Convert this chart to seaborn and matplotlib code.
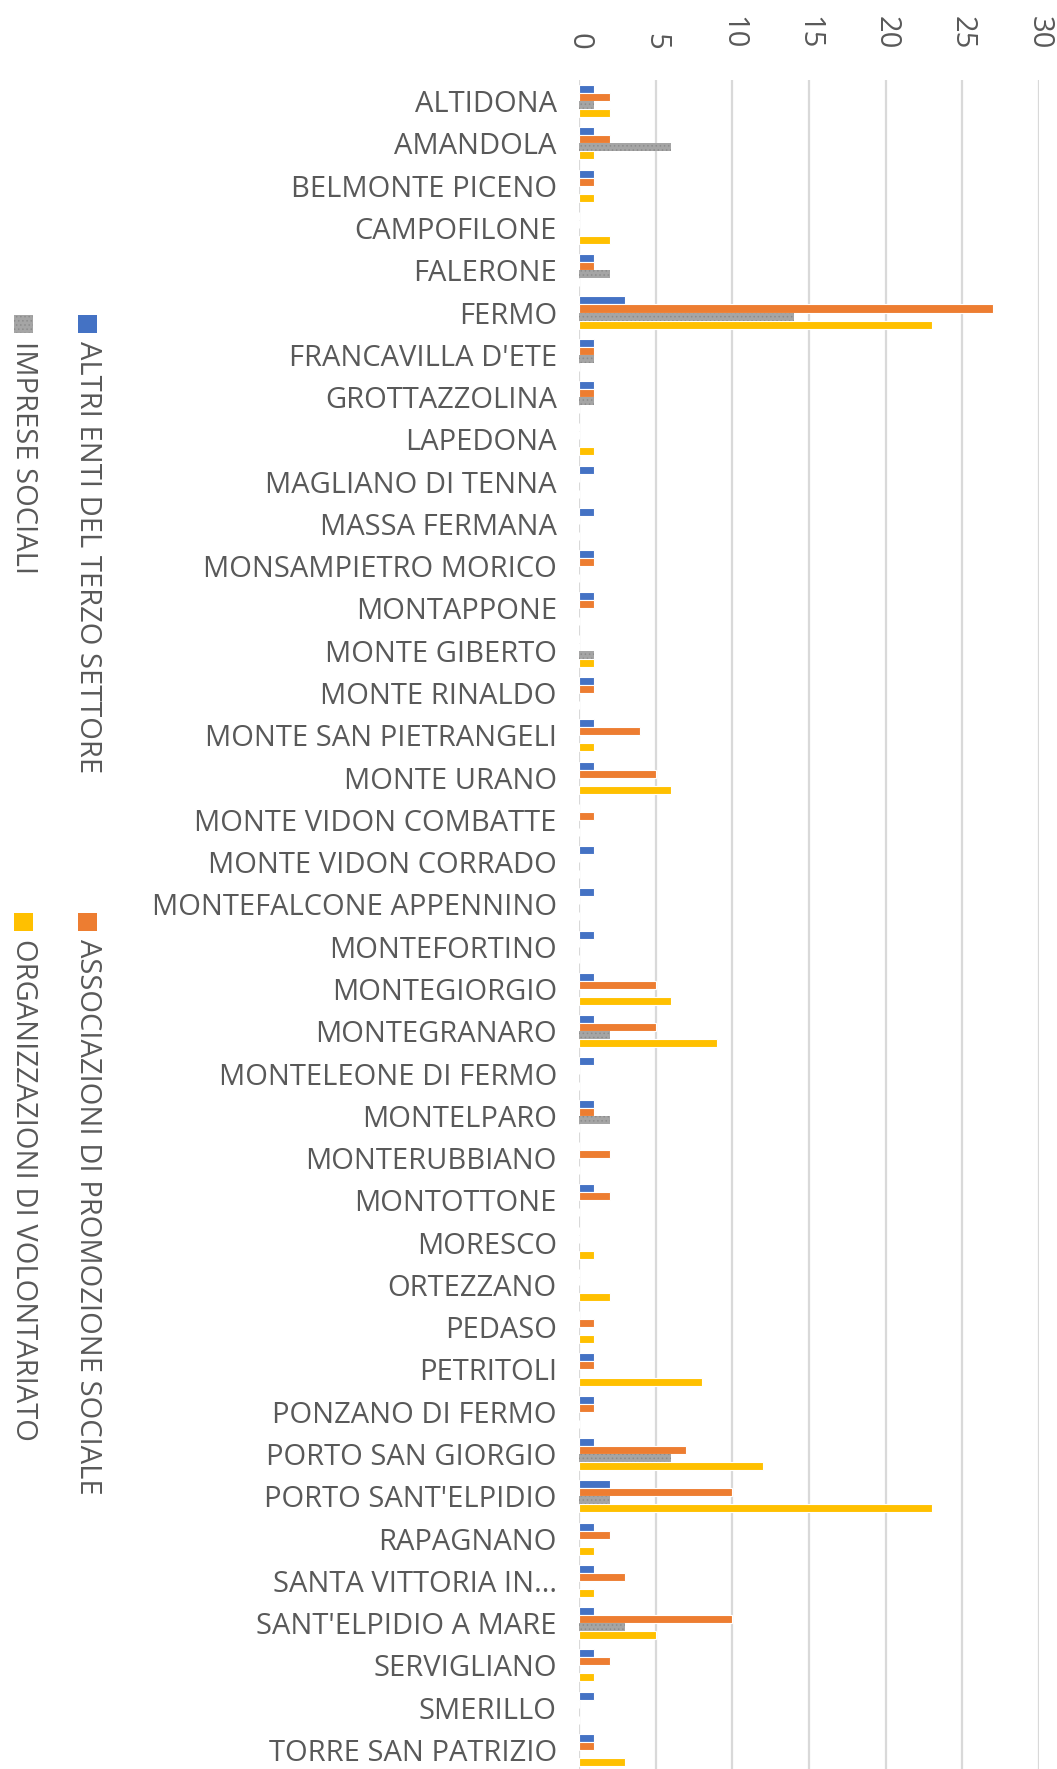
import matplotlib
matplotlib.use("Agg")
import matplotlib.pyplot as plt
from matplotlib.patches import Rectangle
import numpy as np
import pandas as pd
import seaborn as sns

# comuni della provincia di Fermo
comuni = [
    "ALTIDONA", "AMANDOLA", "BELMONTE PICENO", "CAMPOFILONE", "FALERONE",
    "FERMO", "FRANCAVILLA D'ETE", "GROTTAZZOLINA", "LAPEDONA",
    "MAGLIANO DI TENNA", "MASSA FERMANA", "MONSAMPIETRO MORICO",
    "MONTAPPONE", "MONTE GIBERTO", "MONTE RINALDO", "MONTE SAN PIETRANGELI",
    "MONTE URANO", "MONTE VIDON COMBATTE", "MONTE VIDON CORRADO",
    "MONTEFALCONE APPENNINO", "MONTEFORTINO", "MONTEGIORGIO", "MONTEGRANARO",
    "MONTELEONE DI FERMO", "MONTELPARO", "MONTERUBBIANO", "MONTOTTONE",
    "MORESCO", "ORTEZZANO", "PEDASO", "PETRITOLI", "PONZANO DI FERMO",
    "PORTO SAN GIORGIO", "PORTO SANT'ELPIDIO", "RAPAGNANO",
    "SANTA VITTORIA IN...", "SANT'ELPIDIO A MARE", "SERVIGLIANO", "SMERILLO",
    "TORRE SAN PATRIZIO",
]

tipi = [
    "ALTRI ENTI DEL TERZO SETTORE",
    "ASSOCIAZIONI DI PROMOZIONE SOCIALE",
    "IMPRESE SOCIALI",
    "ORGANIZZAZIONI DI VOLONTARIATO",
]

altri_enti = [1, 1, 1, 0, 1, 3, 1, 1, 0, 1, 1, 1, 1, 0, 1, 1, 1, 0, 1, 1,
              1, 1, 1, 1, 1, 0, 1, 0, 0, 0, 1, 1, 1, 2, 1, 1, 1, 1, 1, 1]
aps = [2, 2, 1, 0, 1, 27, 1, 1, 0, 0, 0, 1, 1, 0, 1, 4, 5, 1, 0, 0,
       0, 5, 5, 0, 1, 2, 2, 0, 0, 1, 1, 1, 7, 10, 2, 3, 10, 2, 0, 1]
imprese = [1, 6, 0, 0, 2, 14, 1, 1, 0, 0, 0, 0, 0, 1, 0, 0, 0, 0, 0, 0,
           0, 0, 2, 0, 2, 0, 0, 0, 0, 0, 0, 0, 6, 2, 0, 0, 3, 0, 0, 0]
odv = [2, 1, 1, 2, 0, 23, 0, 0, 1, 0, 0, 0, 0, 1, 0, 1, 6, 0, 0, 0,
       0, 6, 9, 0, 0, 0, 0, 1, 2, 1, 8, 0, 12, 23, 1, 1, 5, 1, 0, 3]

colori = ["#4472C4", "#ED7D31", "#A5A5A5", "#FFC000"]
grigio_testo = "#595959"

df = pd.DataFrame({"comune": comuni * 4,
                   "tipo": np.repeat(tipi, len(comuni)),
                   "valore": altri_enti + aps + imprese + odv})

sns.set_theme(style="white")
plt.rcParams["font.family"] = ["Open Sans", "DejaVu Sans"]
plt.rcParams["hatch.linewidth"] = 0.6

fig = plt.figure(figsize=(10.57, 17.69), dpi=100)
ax = fig.add_axes([579 / 1057, 0.0, (1039 - 579) / 1057, 1 - 80 / 1769])

sns.barplot(data=df, y="comune", x="valore", hue="tipo", hue_order=tipi,
            palette=colori, saturation=1, orient="h", width=0.76, order=comuni,
            edgecolor="white", linewidth=0.8, legend=False, ax=ax)

# trama a puntini per le imprese sociali
for barra in ax.containers[2]:
    barra.set_hatch("....")
    barra.set_edgecolor("#8C8C8C")
    barra.set_linewidth(0)

ax.set_xlim(0, 30)
ax.set_xticks(range(0, 31, 5))
ax.set_ylim(39.45, -0.5)
ax.set_xlabel("")
ax.set_ylabel("")
ax.xaxis.tick_top()
ax.grid(axis="x", color="#D9D9D9", linewidth=1.6)
ax.set_axisbelow(True)
for s in ax.spines.values():
    s.set_visible(False)
ax.tick_params(axis="x", length=0, pad=22, labelsize=21, labelcolor=grigio_testo,
               labelrotation=-90)
ax.tick_params(axis="y", length=0, pad=16, labelsize=21, labelcolor=grigio_testo)

# legenda ruotata, disegnata a mano
def voce(x, y, colore, testo, trama=None):
    q = Rectangle(((x - 9) / 1057, 1 - (y + 18) / 1769), 19 / 1057, 18 / 1769,
                  transform=fig.transFigure, facecolor=colore, linewidth=0,
                  edgecolor="#8C8C8C" if trama else "none", hatch=trama)
    fig.add_artist(q)
    fig.text(x / 1057, 1 - (y + 26) / 1769, testo, rotation=-90, ha="center", va="top",
             fontsize=21, color=grigio_testo)

voce(87, 315, colori[0], tipi[0])
voce(23, 315, colori[2], tipi[2], "....")
voce(87, 913, colori[1], tipi[1])
voce(23, 913, colori[3], tipi[3])

fig.savefig("out.png", dpi=100, facecolor="white")
